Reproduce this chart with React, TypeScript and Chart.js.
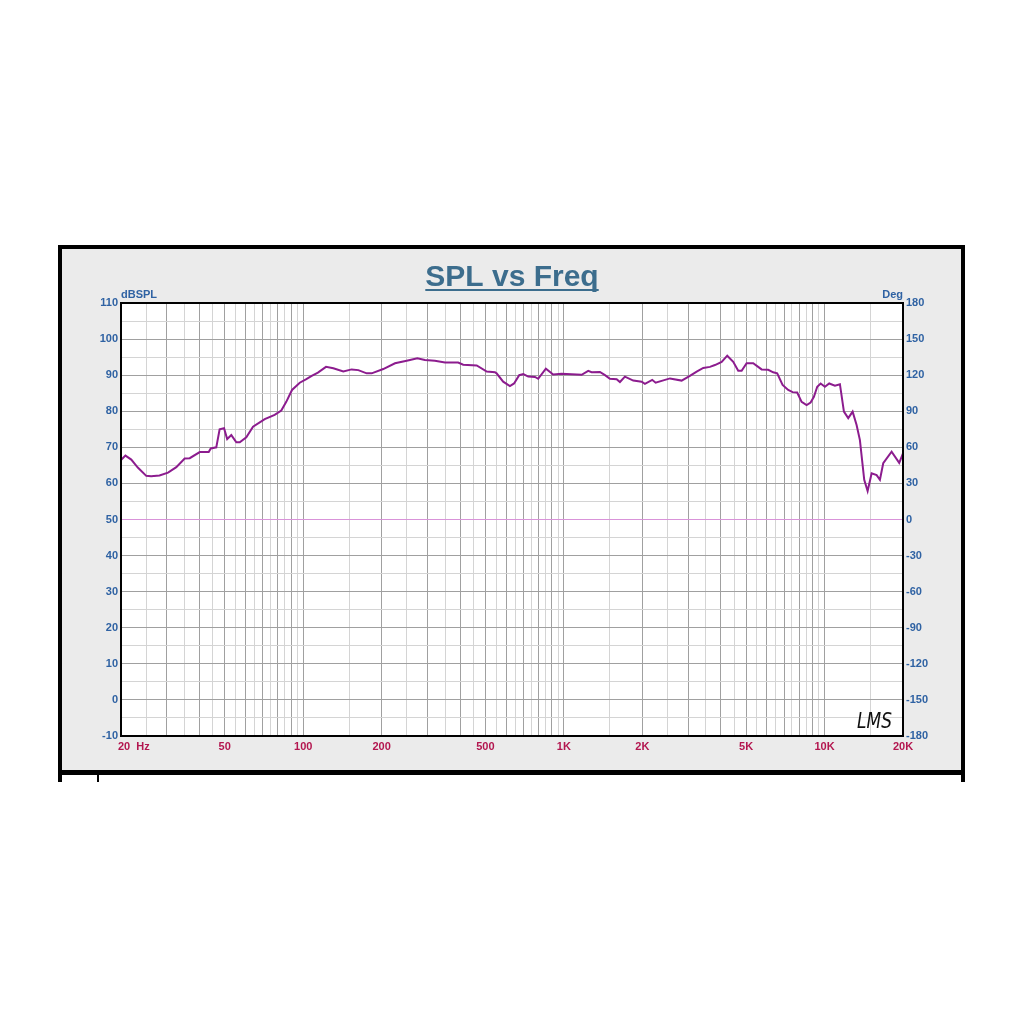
import React, { useEffect, useRef } from 'react';
import { Chart, registerables } from 'chart.js';

Chart.register(...registerables);

// ---- data ----
const FREQ_HZ = [
  20, 20.8, 21.9, 23.2, 25, 26.1, 28.1, 30.3, 32.6, 35.1, 36.7, 40.1, 43.4, 44.2, 46.4, 47.8, 49.7,
  51.1, 53, 55.4, 57.1, 60.5, 64.2, 71.2, 77.7, 82.4, 86.1, 90.6, 97, 102.8, 107.8, 113.9, 122.3,
  130.5, 142.5, 153.4, 162.7, 175.2, 183.1, 202.8, 225, 249.5, 274, 293, 320, 350, 393, 411, 463,
  506, 544, 552, 585, 621, 644, 674, 699, 730, 775, 797, 853, 910, 980, 1170, 1240, 1278, 1375,
  1438, 1502, 1594, 1641, 1715, 1846, 1988, 2046, 2183, 2249, 2553, 2830, 3044, 3232, 3426, 3634,
  3798, 4031, 4234, 4464, 4666, 4808, 5025, 5326, 5736, 6080, 6355, 6583, 6904, 7254, 7541, 7854,
  8166, 8535, 8842, 9105, 9376, 9662, 10034, 10422, 10962, 11456, 11868, 12328, 12816, 13274,
  13668, 14200, 14632, 15160, 15844, 16312, 16796, 18086, 19340, 20000,
];
const SPL_DB = [
  66.5, 67.7, 66.6, 64.4, 62.1, 62.0, 62.2, 63.0, 64.5, 66.9, 67.0, 68.7, 68.7, 69.7, 70.0, 75.0, 75.3,
  72.3, 73.4, 71.4, 71.4, 72.8, 75.7, 77.8, 79.0, 80.2, 82.6, 85.9, 87.9, 88.9, 89.8, 90.7, 92.3,
  91.9, 91.0, 91.6, 91.4, 90.5, 90.5, 91.7, 93.3, 94.0, 94.7, 94.2, 94.0, 93.5, 93.5, 92.9, 92.7,
  91.0, 90.8, 90.5, 88.2, 87.0, 87.7, 90.0, 90.3, 89.6, 89.5, 89.0, 91.8, 90.2, 90.4, 90.1, 91.2, 90.8, 90.9,
  90.0, 89.0, 88.9, 88.1, 89.6, 88.5, 88.2, 87.6, 88.7, 87.9, 89.1, 88.5, 89.8, 91.0, 92.0, 92.3,
  92.8, 93.7, 95.4, 93.7, 91.2, 91.2, 93.3, 93.3, 91.6, 91.5, 90.8, 90.5, 87.3, 85.9, 85.3, 85.2,
  82.6, 81.7, 82.4, 84.0, 86.8, 87.7, 86.8, 87.7, 87.1, 87.5, 79.9, 78.1, 79.9, 76.2,
  72.0, 61.0, 57.9, 62.8, 62.3, 61.0, 65.6, 68.8, 65.7, 68.3,
];
const PHASE_FREQ = [20, 200, 2000, 20000];
const PHASE_DEG = [0, 0, 0, 0];

const X_LABEL_VALUES = [20, 50, 100, 200, 500, 1000, 2000, 5000, 10000, 20000];
const X_LABEL_TEXT = ['20  Hz', '50', '100', '200', '500', '1K', '2K', '5K', '10K', '20K'];
const GRID_STEPS = [1, 1.5, 2, 2.5, 3, 3.5, 4, 4.5, 5, 5.5, 6, 6.5, 7, 7.5, 8, 8.5, 9, 9.5];
const DECADES = [10, 100, 1000, 10000];
const SPL_RANGE = [-10, 110];
const PHASE_RANGE = [-180, 180];
const TITLE = 'SPL vs Freq';
const LEFT_UNIT = 'dBSPL';
const RIGHT_UNIT = 'Deg';
const LOGO = 'LMS';

const FONT = '"Liberation Sans", Arial, sans-serif';
const BLUE = '#2f62a3';
const RED = '#b3164f';
const DARK_GRID = '#a0a0a0';
const LIGHT_GRID = '#d4d4d4';
const PHASE_COLOR = '#d993d9';

const gridFreqs: number[] = [];
DECADES.forEach((d) => GRID_STEPS.forEach((s) => {
  const v = Math.round(d * s * 1000) / 1000;
  if (v >= 20 && v <= 20000) gridFreqs.push(v);
}));
if (!gridFreqs.includes(20000)) gridFreqs.push(20000);

function isMajorFreq(v: number) {
  const m = v / Math.pow(10, Math.floor(Math.log10(v) + 1e-9));
  return Math.abs(m - Math.round(m)) < 1e-6;
}

const decorPlugin = {
  id: 'decor',
  beforeDraw(chart: any) {
    const { ctx, chartArea: a } = chart;
    ctx.save();
    ctx.fillStyle = '#ffffff';
    ctx.fillRect(a.left, a.top, a.right - a.left, a.bottom - a.top);
    ctx.restore();
  },
  afterDraw(chart: any) {
    const { ctx, chartArea: a } = chart;
    const xs = chart.scales.x;
    ctx.save();
    ctx.strokeStyle = '#000';
    ctx.lineWidth = 2;
    ctx.strokeRect(a.left, a.top, a.right - a.left, a.bottom - a.top);

    ctx.font = `bold 30px ${FONT}`;
    ctx.fillStyle = '#3c6d8d';
    ctx.textAlign = 'center';
    ctx.textBaseline = 'alphabetic';
    const cx = (a.left + a.right) / 2;
    const ty = a.top - 17;
    ctx.fillText(TITLE, cx, ty);
    const w = ctx.measureText(TITLE).width;
    ctx.fillRect(cx - w / 2, ty + 3, w, 2);

    ctx.font = `bold 11px ${FONT}`;
    ctx.fillStyle = BLUE;
    ctx.textAlign = 'left';
    ctx.fillText(LEFT_UNIT, a.left, a.top - 5);
    ctx.textAlign = 'right';
    ctx.fillText(RIGHT_UNIT, a.right, a.top - 5);

    ctx.fillStyle = RED;
    ctx.textBaseline = 'top';
    X_LABEL_VALUES.forEach((v, i) => {
      const px = xs.getPixelForValue(v);
      if (i === 0) {
        ctx.textAlign = 'left';
        ctx.fillText(X_LABEL_TEXT[i], px - 3, a.bottom + 5);
      } else {
        ctx.textAlign = 'center';
        ctx.fillText(X_LABEL_TEXT[i], px, a.bottom + 5);
      }
    });

    ctx.fillStyle = '#111';
    ctx.font = `italic 17px "DejaVu Sans", sans-serif`;
    ctx.textAlign = 'left';
    ctx.textBaseline = 'alphabetic';
    ctx.translate(a.right - 46, a.bottom - 8);
    ctx.scale(1, 1.2);
    ctx.fillText(LOGO, 0, 0);
    ctx.restore();
  },
};

export default function App() {
  const ref = useRef<HTMLCanvasElement | null>(null);

  useEffect(() => {
    if (!ref.current) return;
    const chart = new Chart(ref.current, {
      type: 'line',
      data: {
        datasets: [
          {
            label: 'SPL',
            data: FREQ_HZ.map((f, i) => ({ x: f, y: SPL_DB[i] })),
            yAxisID: 'y',
            borderColor: '#8c1c8e',
            borderWidth: 2,
            pointRadius: 0,
            tension: 0,
            order: 0,
          },
          {
            label: 'Phase',
            data: PHASE_FREQ.map((f, i) => ({ x: f, y: PHASE_DEG[i] })),
            yAxisID: 'y1',
            borderColor: PHASE_COLOR,
            borderWidth: 1,
            pointRadius: 0,
            tension: 0,
            order: 1,
          },
        ],
      },
      options: {
        responsive: false,
        animation: false,
        layout: { padding: { top: 54, left: 0, right: 0, bottom: 0 } },
        plugins: { legend: { display: false }, tooltip: { enabled: false }, title: { display: false } },
        scales: {
          x: {
            type: 'logarithmic',
            min: 20,
            max: 20000,
            afterBuildTicks: (s: any) => {
              s.ticks = gridFreqs.map((v) => ({ value: v }));
            },
            ticks: { display: false },
            grid: {
              drawTicks: false,
              lineWidth: 1,
              color: (c: any) => {
                const v = c.tick ? c.tick.value : 0;
                if (v <= 20 || v >= 20000) return 'rgba(0,0,0,0)';
                return isMajorFreq(v) ? DARK_GRID : LIGHT_GRID;
              },
            },
            border: { display: false },
            afterFit: (s: any) => {
              s.height = 34;
            },
          },
          y: {
            type: 'linear',
            position: 'left',
            min: SPL_RANGE[0],
            max: SPL_RANGE[1],
            ticks: {
              stepSize: 5,
              padding: 3,
              color: BLUE,
              font: { family: FONT, size: 11, weight: 'bold' },
              callback: (v: any) => (Math.round(v) % 10 === 0 ? String(v) : ''),
            },
            grid: {
              drawTicks: false,
              lineWidth: 1,
              color: (c: any) => {
                const v = c.tick ? c.tick.value : 0;
                if (v <= SPL_RANGE[0] || v >= SPL_RANGE[1] || Math.abs(v - 50) < 0.01) return 'rgba(0,0,0,0)';
                return Math.round(v) % 10 === 0 ? DARK_GRID : LIGHT_GRID;
              },
            },
            border: { display: false },
            afterFit: (s: any) => {
              s.width = 59;
            },
          },
          y1: {
            type: 'linear',
            position: 'right',
            min: PHASE_RANGE[0],
            max: PHASE_RANGE[1],
            ticks: {
              stepSize: 30,
              padding: 3,
              color: BLUE,
              font: { family: FONT, size: 11, weight: 'bold' },
            },
            grid: { display: false, drawTicks: false },
            border: { display: false },
            afterFit: (s: any) => {
              s.width = 58;
            },
          },
        },
      } as any,
      plugins: [decorPlugin],
    });
    return () => chart.destroy();
  }, []);

  return (
    <div>
      <div
        style={{
          position: 'fixed',
          left: 58,
          top: 245,
          width: 907,
          height: 530,
          boxSizing: 'border-box',
          background: '#ebebeb',
          borderTop: '4px solid #000',
          borderLeft: '4px solid #000',
          borderRight: '4px solid #000',
          borderBottom: '5px solid #000',
        }}
      />
      <div style={{ position: 'fixed', left: 58, top: 775, width: 4, height: 7, background: '#000' }} />
      <div style={{ position: 'fixed', left: 97, top: 775, width: 2, height: 7, background: '#000' }} />
      <div style={{ position: 'fixed', left: 961, top: 775, width: 4, height: 7, background: '#000' }} />
      <canvas
        ref={ref}
        width={899}
        height={521}
        style={{ position: 'fixed', left: 62, top: 249, width: 899, height: 521 }}
      />
    </div>
  );
}
